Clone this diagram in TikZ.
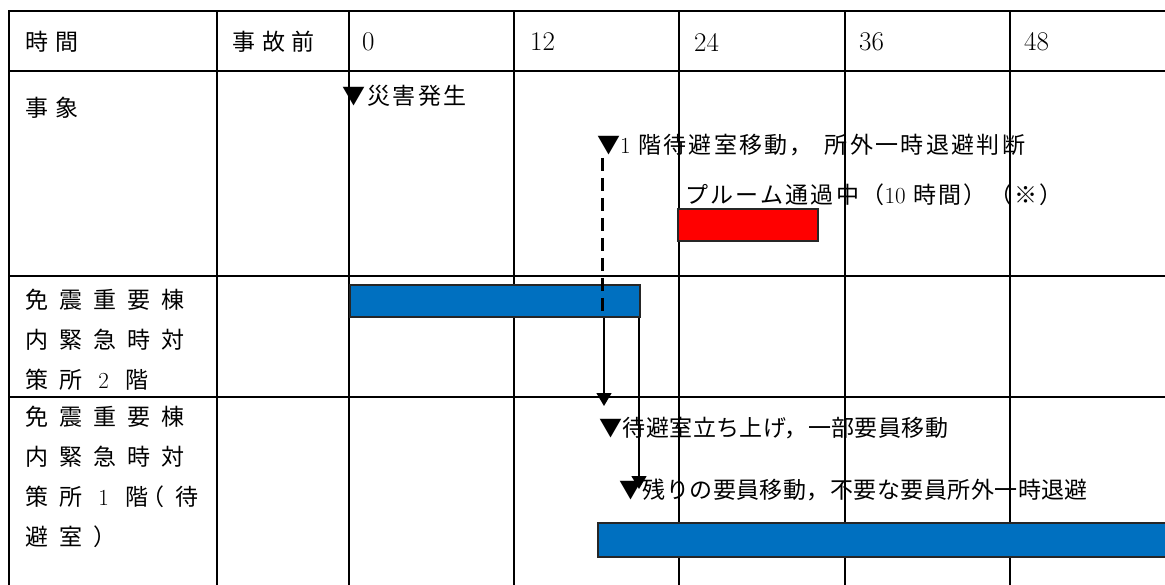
\documentclass[tikz,border=0pt]{standalone}
\usepackage{fontspec}
\usetikzlibrary{arrows.meta, positioning}
\newfontfamily\cjk{Noto Sans CJK JP}[LetterSpace=2]
\newfontfamily\cjkloose{Noto Sans CJK JP}[LetterSpace=10]
\newfontfamily\cjkhead{Noto Sans CJK JP}[LetterSpace=30]
\newfontfamily\cjkwide{Noto Sans CJK JP}[LetterSpace=48]
\definecolor{barblue}{HTML}{0070C0}
\definecolor{barred}{HTML}{FF0000}
\newcommand{\dig}[1]{{\rmfamily #1}}

\begin{document}
\begin{tikzpicture}[
    x=1pt, y=-1pt,
    gridline/.style={line width=2.6pt},
    headtext/.style={anchor=west, inner sep=0pt, font=\cjkhead\fontsize{23}{27}\selectfont},
    hourtext/.style={anchor=west, inner sep=0pt, font=\rmfamily\fontsize{27}{30}\selectfont},
    rowlabel/.style={anchor=north west, inner sep=0pt, align=left, font=\cjkwide\fontsize{23}{40}\selectfont},
    event/.style={anchor=west, inner sep=0pt, font=\cjk\fontsize{23}{27}\selectfont},
    looseevent/.style={event, font=\cjkloose\fontsize{23}{27}\selectfont},
    bar/.style={rectangle, draw=black!85, line width=1.2pt, inner sep=0pt, minimum height=32pt},
    flow/.style={-{Triangle[width=15pt,length=13pt]}, line width=1.4pt},
    dashline/.style={line width=3pt, dash pattern=on 13pt off 7pt},
]
\useasboundingbox (0,0) rectangle (1165,585);

% Table grid
\draw[gridline] (1170,11) -- (9,11) -- (9,590);
\foreach \y in {71,276,397}
    \draw[gridline] (9,\y) -- (1170,\y);
\foreach \x in {217,349,514,679,845,1010}
    \draw[gridline] (\x,11) -- (\x,590);

% Header row
\node[headtext] (hTime) at (25,42) {時間};
\node[headtext] (hBefore) at (232,42) {事故前};
\node[hourtext] (h0) at (362,42) {0};
\node[hourtext] (h12) at (530,42) {12};
\node[hourtext] (h24) at (694,42) {24};
\node[hourtext] (h36) at (859,42) {36};
\node[hourtext] (h48) at (1024,42) {48};

% Row labels
\node[headtext] (rEvent) at (25,108) {事象};
\node[rowlabel] (rSecond) at (25,288.5) {免震重要棟\\内緊急時対\\策所 \dig{2} 階};
\node[rowlabel] (rFirst) at (25,406) {免震重要棟\\内緊急時対\\策所 \dig{1} 階\kern-7pt（待\\避室）};

% Events
\node[looseevent] (eQuake) at (342,96) {▼災害発生};
\node[looseevent] (eJudge) at (597,145) {▼\dig{1} 階待避室移動，\hspace{12pt}所外一時退避判断};
\node[looseevent] (ePlume) at (685,195) {プルーム通過中（\dig{10} 時間）（※）};
\node[event] (eSetup) at (599,428) {▼待避室立ち上げ，一部要員移動};
\node[event] (eRest) at (619,490) {▼残りの要員移動，不要な要員所外一時退避};

% Bars
\node[bar, fill=barred, minimum width=140pt] (plume) at (748,225) {};
\node[bar, fill=barblue, minimum width=290pt] (stayTwo) at (495,301) {};
\node[bar, fill=barblue, minimum width=572pt, minimum height=34pt] (stayOne) at (884,540) {};

% Moves
\coordinate (judgeTop) at (602,158);
\coordinate (moveA) at (604,406);
\coordinate (moveB) at (639,489);
\draw[dashline, shorten >=5pt] (judgeTop) -- (judgeTop |- stayTwo.south);
\draw[flow] (moveA |- stayTwo.south) -- (moveA);
\draw[flow] (moveB |- stayTwo.south) -- (moveB);

\end{tikzpicture}
\end{document}
